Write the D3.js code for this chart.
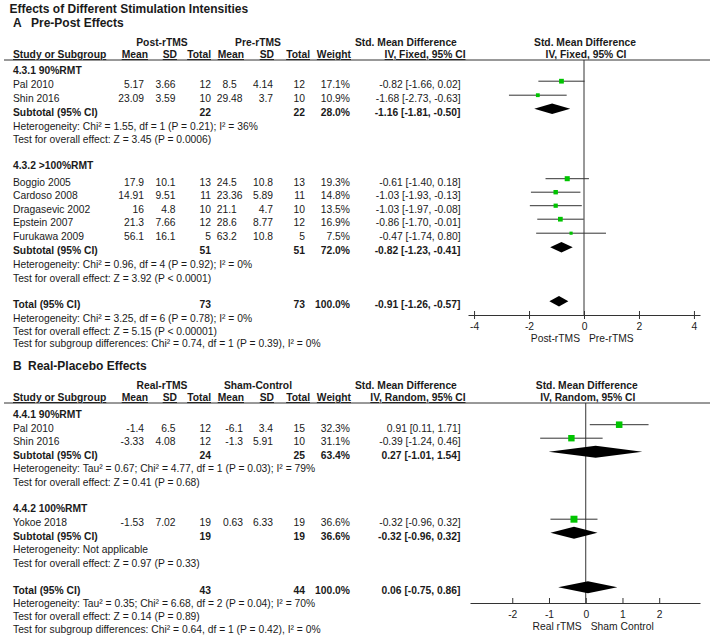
<!DOCTYPE html>
<html><head><meta charset="utf-8">
<script src="https://cdn.jsdelivr.net/npm/d3@7"></script>
<style>
html,body{margin:0;padding:0;background:#fff;}
svg{display:block;}
text{font-family:"Liberation Sans",Arial,Helvetica,sans-serif;font-size:10.3px;fill:#1a1a1a;}
.b{font-weight:bold;}
.u{text-decoration:underline;}
</style></head><body>
<svg id="c" width="713" height="644"></svg>
<script>
// ---------------- DATA: Panel A (Pre-Post Effects) ----------------
const aStudy   = ["Pal 2010","Shin 2016","Boggio 2005","Cardoso 2008","Dragasevic 2002","Epstein 2007","Furukawa 2009"];
const aSub     = [0,0,1,1,1,1,1];
const aMean1   = [5.17,23.09,17.9,14.91,16,21.3,56.1];
const aSD1     = [3.66,3.59,10.1,9.51,4.8,7.66,16.1];
const aN1      = [12,10,13,11,10,12,5];
const aMean2   = [8.5,29.48,24.5,23.36,21.1,28.6,63.2];
const aSD2     = [4.14,3.7,10.8,5.89,4.7,8.77,10.8];
const aN2      = [12,10,13,11,10,12,5];
const aWeight  = [17.1,10.9,19.3,14.8,13.5,16.9,7.5];
const aSMD     = [-0.82,-1.68,-0.61,-1.03,-1.03,-0.86,-0.47];
const aLo      = [-1.66,-2.73,-1.40,-1.93,-1.97,-1.70,-1.74];
const aHi      = [0.02,-0.63,0.18,-0.13,-0.08,-0.01,0.80];
const aSubLabel= ["4.3.1 90%RMT","4.3.2 >100%RMT"];
const aSubN1   = [22,51];
const aSubN2   = [22,51];
const aSubW    = [28.0,72.0];
const aSubSMD  = [-1.16,-0.82];
const aSubLo   = [-1.81,-1.23];
const aSubHi   = [-0.50,-0.41];
const aSubHet  = ["Heterogeneity: Chi² = 1.55, df = 1 (P = 0.21); I² = 36%","Heterogeneity: Chi² = 0.96, df = 4 (P = 0.92); I² = 0%"];
const aSubTest = ["Test for overall effect: Z = 3.45 (P = 0.0006)","Test for overall effect: Z = 3.92 (P < 0.0001)"];
const aTotN    = [73,73];
const aTotW    = 100.0;
const aTotEst  = [-0.91,-1.26,-0.57];
const aTotNote = ["Heterogeneity: Chi² = 3.25, df = 6 (P = 0.78); I² = 0%","Test for overall effect: Z = 5.15 (P < 0.00001)","Test for subgroup differences: Chi² = 0.74, df = 1 (P = 0.39), I² = 0%"];
const aTicks   = [-4,-2,0,2,4];

// ---------------- DATA: Panel B (Real-Placebo Effects) ----------------
const bStudy   = ["Pal 2010","Shin 2016","Yokoe 2018"];
const bSub     = [0,0,1];
const bMean1   = [-1.4,-3.33,-1.53];
const bSD1     = [6.5,4.08,7.02];
const bN1      = [12,12,19];
const bMean2   = [-6.1,-1.3,0.63];
const bSD2     = [3.4,5.91,6.33];
const bN2      = [15,10,19];
const bWeight  = [32.3,31.1,36.6];
const bSMD     = [0.91,-0.39,-0.32];
const bLo      = [0.11,-1.24,-0.96];
const bHi      = [1.71,0.46,0.32];
const bSubLabel= ["4.4.1 90%RMT","4.4.2 100%RMT"];
const bSubN1   = [24,19];
const bSubN2   = [25,19];
const bSubW    = [63.4,36.6];
const bSubSMD  = [0.27,-0.32];
const bSubLo   = [-1.01,-0.96];
const bSubHi   = [1.54,0.32];
const bSubHet  = ["Heterogeneity: Tau² = 0.67; Chi² = 4.77, df = 1 (P = 0.03); I² = 79%","Heterogeneity: Not applicable"];
const bSubTest = ["Test for overall effect: Z = 0.41 (P = 0.68)","Test for overall effect: Z = 0.97 (P = 0.33)"];
const bTotN    = [43,44];
const bTotW    = 100.0;
const bTotEst  = [0.06,-0.75,0.86];
const bTotNote = ["Heterogeneity: Tau² = 0.35; Chi² = 6.68, df = 2 (P = 0.04); I² = 70%","Test for overall effect: Z = 0.14 (P = 0.89)","Test for subgroup differences: Chi² = 0.64, df = 1 (P = 0.42), I² = 0%"];
const bTicks   = [-2,-1,0,1,2];

// ---------------- LAYOUT ----------------
const COL = {study:13, mean1:144, sd1:175.5, n1:211, mean2R:243, mean2Dec:228.2, sd2:273, n2:305, w:350, ci:460.5,
             hMean1:148, hSD1:177, hN1:211, hMean2:244, hSD2:274, hN2:310, hW:351, hCI:465.5,
             grp1:162, grp2:258, smd:355};
const LAYOUT_A = {titleY:27, h1:46, h2:58, rule:60,
  rows:[74,88,102,115.5,129.5,143,169,185.5,199,212.5,226,240,254,267.5,281.5,308,321.5,334.5,347],
  axisY:315, range:[468,700], domain:[-4.22,4.22], tickUp:4, tickDown:4, tickLabelDy:14.5, axisLabelY:342,
  diamondH:10.5, mean2:"decimal"};
const LAYOUT_B = {titleY:369.5, h1:388.5, h2:401, rule:403,
  rows:[418,431.5,445,458.5,472,485.5,512,526,539.5,553,566.5,594,607,620,633],
  axisY:603, range:[470,700], domain:[-3.15,3.11], tickUp:5, tickDown:0, tickLabelDy:14.5, axisLabelY:630,
  diamondH:12, mean2:"right"};
const MARK_OFF = 6.8;
const GREEN = "#00c400", LINE = "#333";

const svg = d3.select("#c");

svg.append("text").attr("class","b").attr("x",9.5).attr("y",13).style("font-size","12px")
   .text("Effects of Different Stimulation Intensities");

function fmt2(v){ return v.toFixed(2); }
function ciStr(e,l,h){ return `${fmt2(e)} [${fmt2(l)}, ${fmt2(h)}]`; }

function drawPanel(P){
  const L = P.L;
  const g = svg.append("g");
  const x = d3.scaleLinear().domain(L.domain).range(L.range);
  const size = d3.scaleSqrt().domain([0,100]).range([0,11.5]);

  // section title
  const st = g.append("text").attr("class","b").attr("y",L.titleY).style("font-size","12px");
  st.append("tspan").attr("x",13).text(P.letter);
  st.append("tspan").attr("x",P.titleX).text(P.title);

  // header row 1
  const h1 = [[P.grpNames[0],COL.grp1,"middle"],[P.grpNames[1],COL.grp2,"middle"],["Std. Mean Difference",COL.smd,"start"],["Std. Mean Difference",x(0)+1,"middle"]];
  g.selectAll(null).data(h1).join("text").attr("class","b")
    .attr("x",d=>d[1]).attr("y",L.h1).attr("text-anchor",d=>d[2]).text(d=>d[0]);
  // header row 2
  const h2 = [["Study or Subgroup",COL.study,"start"],["Mean",COL.hMean1,"end"],["SD",COL.hSD1,"end"],["Total",COL.hN1,"end"],
              ["Mean",COL.hMean2,"end"],["SD",COL.hSD2,"end"],["Total",COL.hN2,"end"],["Weight",COL.hW,"end"],[P.method,COL.hCI,"end"]];
  g.selectAll(null).data(h2).join("text").attr("class","b u")
    .attr("x",d=>d[1]).attr("y",L.h2).attr("text-anchor",d=>d[2]).text(d=>d[0]);
  g.append("text").attr("class","b").attr("x",x(0)+2).attr("y",L.h2).attr("text-anchor","middle").text(P.method);
  g.append("line").attr("x1",4).attr("x2",710).attr("y1",L.rule).attr("y2",L.rule).attr("stroke",LINE).attr("stroke-width",1);

  // build rows
  const rows = [];
  P.subLabel.forEach((lab,k)=>{
    rows.push({t:"group",k});
    P.study.forEach((s,i)=>{ if(P.sub[i]===k) rows.push({t:"study",i}); });
    rows.push({t:"sub",k});
    rows.push({t:"note",text:P.subHet[k]});
    rows.push({t:"note",text:P.subTest[k]});
  });
  rows.push({t:"total"});
  P.totNote.forEach(n=>rows.push({t:"note",text:n}));
  rows.forEach((r,j)=>r.y=L.rows[j]);

  // zero line
  g.append("line").attr("x1",x(0)).attr("x2",x(0)).attr("y1",L.rule).attr("y2",L.axisY).attr("stroke",LINE).attr("stroke-width",1);

  const txt = (xx,yy,s,anchor,bold)=>g.append("text").attr("x",xx).attr("y",yy).attr("text-anchor",anchor||"start").attr("class",bold?"b":null).text(s);
  const diamond = (e,l,h,yy)=>{
    const hh = L.diamondH/2;
    g.append("path").attr("d",`M${x(l)},${yy}L${x(e)},${yy-hh}L${x(h)},${yy}L${x(e)},${yy+hh}Z`).attr("fill","#000");
  };

  rows.forEach(r=>{
    const y = r.y, my = y - MARK_OFF;
    if(r.t==="group"){ txt(COL.study,y,P.subLabel[r.k],"start",true); }
    else if(r.t==="note"){ txt(COL.study,y,r.text); }
    else if(r.t==="study"){
      const i=r.i;
      txt(COL.study,y,P.study[i]);
      txt(COL.mean1,y,String(P.mean1[i]),"end");
      txt(COL.sd1,y,String(P.sd1[i]),"end");
      txt(COL.n1,y,String(P.n1[i]),"end");
      if(L.mean2==="decimal"){
        const s=String(P.mean2[i]);
        const t=txt(0,y,s);
        const idx=s.indexOf(".");
        const w = idx>=0 ? t.node().getSubStringLength(0,idx) : t.node().getComputedTextLength();
        t.attr("x",COL.mean2Dec - w);
      } else txt(COL.mean2R,y,String(P.mean2[i]),"end");
      txt(COL.sd2,y,String(P.sd2[i]),"end");
      txt(COL.n2,y,String(P.n2[i]),"end");
      txt(COL.w,y,P.weight[i].toFixed(1)+"%","end");
      txt(COL.ci,y,ciStr(P.smd[i],P.lo[i],P.hi[i]),"end");
      g.append("line").attr("x1",x(P.lo[i])).attr("x2",x(P.hi[i])).attr("y1",my).attr("y2",my).attr("stroke",LINE).attr("stroke-width",1);
      const sz=size(P.weight[i]);
      g.append("rect").attr("x",x(P.smd[i])-sz/2).attr("y",my-sz/2).attr("width",sz).attr("height",sz).attr("fill",GREEN);
    }
    else if(r.t==="sub"){
      const k=r.k;
      txt(COL.study,y,"Subtotal (95% CI)","start",true);
      txt(COL.n1,y,String(P.subN1[k]),"end",true);
      txt(COL.n2,y,String(P.subN2[k]),"end",true);
      txt(COL.w,y,P.subW[k].toFixed(1)+"%","end",true);
      txt(COL.ci,y,ciStr(P.subSMD[k],P.subLo[k],P.subHi[k]),"end",true);
      diamond(P.subSMD[k],P.subLo[k],P.subHi[k],my);
    }
    else if(r.t==="total"){
      txt(COL.study,y,"Total (95% CI)","start",true);
      txt(COL.n1,y,String(P.totN[0]),"end",true);
      txt(COL.n2,y,String(P.totN[1]),"end",true);
      txt(COL.w,y,P.totW.toFixed(1)+"%","end",true);
      txt(COL.ci,y,ciStr(P.totEst[0],P.totEst[1],P.totEst[2]),"end",true);
      diamond(P.totEst[0],P.totEst[1],P.totEst[2],my);
    }
  });

  // axis
  const ax = g.append("g").attr("transform",`translate(0,${L.axisY})`)
    .call(d3.axisBottom(x).tickValues(P.ticks).tickFormat(d=>String(d)).tickSizeOuter(0));
  ax.attr("font-family",null).attr("font-size",null);
  ax.select(".domain").attr("stroke",LINE);
  ax.selectAll(".tick line").attr("y1",-L.tickUp).attr("y2",L.tickDown).attr("stroke",LINE);
  ax.selectAll(".tick text").attr("y",L.tickLabelDy).attr("dy",null);
  txt(x(0)-4,L.axisLabelY,P.favL,"end");
  txt(x(0)+5,L.axisLabelY,P.favR,"start");
}

drawPanel({L:LAYOUT_A, letter:"A", title:"Pre-Post Effects", titleX:31, grpNames:["Post-rTMS","Pre-rTMS"], method:"IV, Fixed, 95% CI",
  study:aStudy, sub:aSub, mean1:aMean1, sd1:aSD1, n1:aN1, mean2:aMean2, sd2:aSD2, n2:aN2, weight:aWeight, smd:aSMD, lo:aLo, hi:aHi,
  subLabel:aSubLabel, subN1:aSubN1, subN2:aSubN2, subW:aSubW, subSMD:aSubSMD, subLo:aSubLo, subHi:aSubHi, subHet:aSubHet, subTest:aSubTest,
  totN:aTotN, totW:aTotW, totEst:aTotEst, totNote:aTotNote, ticks:aTicks, favL:"Post-rTMS", favR:"Pre-rTMS"});

drawPanel({L:LAYOUT_B, letter:"B", title:"Real-Placebo Effects", titleX:28, grpNames:["Real-rTMS","Sham-Control"], method:"IV, Random, 95% CI",
  study:bStudy, sub:bSub, mean1:bMean1, sd1:bSD1, n1:bN1, mean2:bMean2, sd2:bSD2, n2:bN2, weight:bWeight, smd:bSMD, lo:bLo, hi:bHi,
  subLabel:bSubLabel, subN1:bSubN1, subN2:bSubN2, subW:bSubW, subSMD:bSubSMD, subLo:bSubLo, subHi:bSubHi, subHet:bSubHet, subTest:bSubTest,
  totN:bTotN, totW:bTotW, totEst:bTotEst, totNote:bTotNote, ticks:bTicks, favL:"Real rTMS", favR:"Sham Control"});
</script>
</body></html>
